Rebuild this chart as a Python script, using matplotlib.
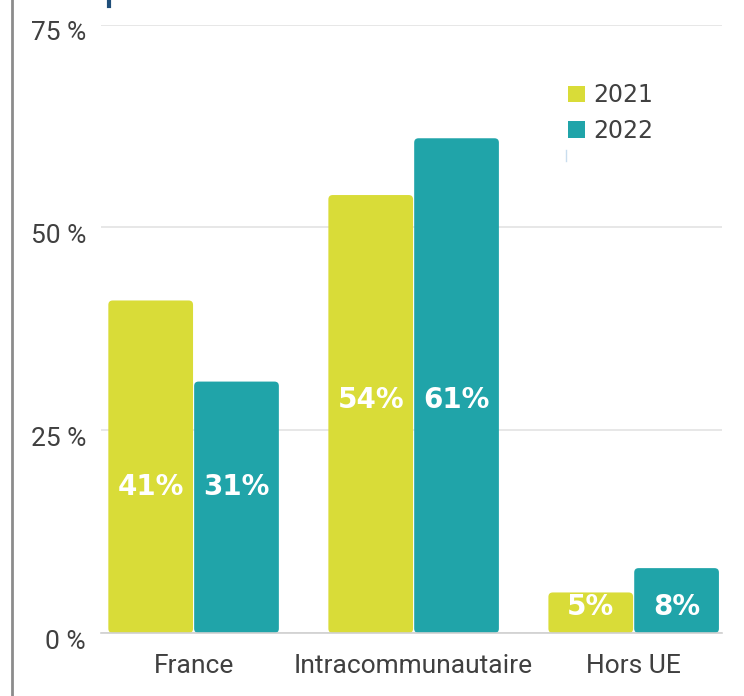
"""
Grouped bar chart: share by destination, 2021 vs 2022.
"""

import matplotlib.pyplot as plt
import matplotlib.transforms as mtransforms
import numpy as np
from matplotlib.patches import FancyBboxPatch, Patch
from matplotlib.lines import Line2D

# Data
categories = ["France", "Intracommunautaire", "Hors UE"]
years = ["2021", "2022"]
values_2021 = [41, 54, 5]
values_2022 = [31, 61, 8]
y_ticks = [0, 25, 50, 75]
y_tick_labels = ["0 %", "25 %", "50 %", "75 %"]

# Style
colors = {"2021": "#D9DC38", "2022": "#20A4A9"}
text_color = "#404040"
plt.rcParams["font.family"] = ["Roboto", "DejaVu Sans"]

fig = plt.figure(figsize=(7.44, 6.96), dpi=100)
ax = fig.add_axes([0.136, 0.0905, 0.834, 0.874])

x = np.arange(len(categories))
width = 0.385
gap = 0.005
series = [values_2021, values_2022]
offsets = [-(width + gap) / 2, (width + gap) / 2]

for year, vals, off in zip(years, series, offsets):
    bars = ax.bar(x + off, vals, width, color=colors[year])
    # swap plain rectangles for slightly rounded ones
    for b in bars:
        bx, by = b.get_xy()
        bw, bh = b.get_width(), b.get_height()
        b.set_visible(False)
        rounded = FancyBboxPatch((bx, by), bw, bh,
                                 boxstyle="round,pad=0,rounding_size=0.02",
                                 mutation_aspect=27,
                                 facecolor=colors[year], edgecolor="none",
                                 zorder=2)
        ax.add_patch(rounded)

# value labels, placed at half the group mean
for i in range(len(categories)):
    label_y = (values_2021[i] + values_2022[i]) / 4
    for vals, off in zip(series, offsets):
        ax.text(x[i] + off, label_y, f"{vals[i]}%", ha="center", va="center",
                color="white", fontsize=20, fontweight="bold",
                family=["DejaVu Sans"], zorder=3)

ax.set_xlim(-0.42, 2.40)
ax.set_ylim(0, 75)
ax.set_yticks(y_ticks)
ax.set_yticklabels(y_tick_labels)
ax.set_xticks(x)
ax.set_xticklabels(categories)
ax.tick_params(axis="both", length=0, colors=text_color, labelsize=19)
ax.tick_params(axis="y", pad=11)
ax.tick_params(axis="x", pad=15)

# y labels sit a little below their gridlines in the original
shift = mtransforms.ScaledTranslation(0, -6 / 100, fig.dpi_scale_trans)
for lab in ax.get_yticklabels():
    lab.set_transform(lab.get_transform() + shift)

ax.grid(axis="y", color="#E3E3E3", linewidth=1.2, zorder=0)
ax.set_axisbelow(True)
for side in ["top", "right", "left"]:
    ax.spines[side].set_visible(False)
ax.spines["bottom"].set_color("#D0D0D0")
ax.spines["bottom"].set_linewidth(1.2)

handles = [Patch(facecolor=colors[y], edgecolor="none", label=y) for y in years]
fig.legend(handles=handles, loc="upper left", bbox_to_anchor=(0.735, 0.911),
           frameon=False, handlelength=0.7, handleheight=0.7,
           handletextpad=0.35, labelspacing=0.5, labelcolor=text_color,
           prop={"family": ["DejaVu Sans"], "size": 17})

# frame remnants from the original screenshot
fig.add_artist(Line2D([0.016, 0.016], [0, 1], color="#8C8C8C", linewidth=2))
fig.add_artist(Line2D([0.147, 0.147], [0.992, 1.0], color="#1F4E79", linewidth=3))
fig.add_artist(Line2D([0.761, 0.761], [0.768, 0.785], color="#C9DDEE", linewidth=1))

fig.savefig("out.png", dpi=100, facecolor="white")
